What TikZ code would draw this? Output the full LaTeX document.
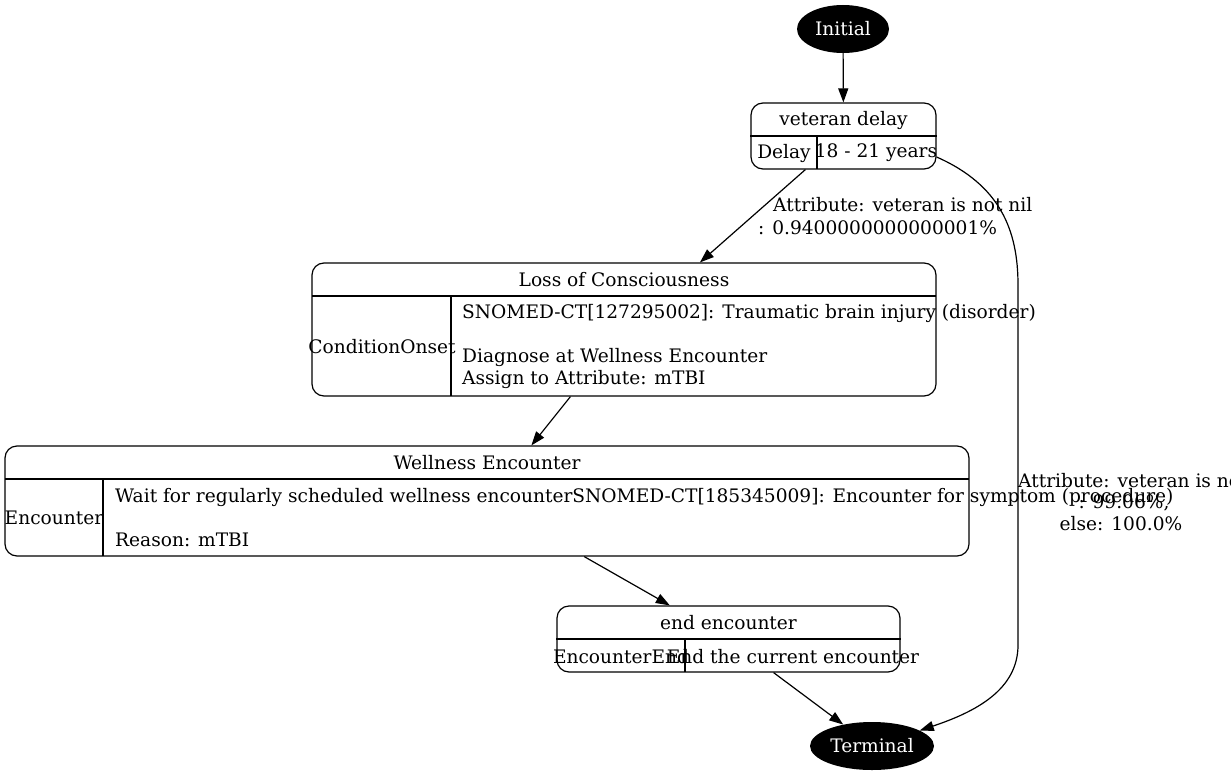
\documentclass[tikz,border=0pt]{standalone}
\usepackage{fontspec}
\setmainfont{DejaVu Serif}
\usetikzlibrary{arrows.meta,shapes.geometric,calc}
\tikzset{
  every node/.style={font=\fontsize{18.6}{22}\selectfont},
  statebox/.style={draw, rounded corners=12pt, line width=1.2pt, inner sep=0pt},
  termnode/.style={ellipse, fill=black, text=white, inner sep=0pt},
  conn/.style={line width=1.2pt, -{Triangle[length=14pt,width=10pt]}},
  divider/.style={line width=1.2pt},
  lbl/.style={inner sep=0pt}
}
\begin{document}
\begin{tikzpicture}[x=1pt,y=-1pt]
\useasboundingbox (0,0) rectangle (1231,776);
% initial
\node[termnode, minimum width=92pt, minimum height=48pt] (init) at (843,29) {Initial};
% veteran delay
\node[statebox, minimum width=185pt, minimum height=66pt] (vd) at (843.5,136) {};
\draw[divider] (vd.west) -- (vd.east);
\draw[divider] (817,136) -- (817,169);
\node[lbl] (vdh) at (843.5,120) {veteran delay};
\node[lbl] (vdk) at (784,153) {Delay};
\node[lbl] (vdv) at (876,153) {18 - 21 years};
% loss of consciousness
\node[statebox, minimum width=624pt, minimum height=133pt] (loc) at (624,329.5) {};
\draw[divider] (312,296) -- (936,296);
\draw[divider] (451,296) -- (451,396);
\node[lbl] (loch) at (624,280) {Loss of Consciousness};
\node[lbl] (lock) at (382,347) {ConditionOnset};
\node[lbl, anchor=west, align=left] (locv) at (462,346) {SNOMED-CT[127295002]: Traumatic brain injury (disorder)\\[22pt]Diagnose at Wellness Encounter\\Assign to Attribute: mTBI};
% wellness encounter
\node[statebox, minimum width=964pt, minimum height=110pt] (we) at (487,501) {};
\draw[divider] (5,479) -- (969,479);
\draw[divider] (103,479) -- (103,556);
\node[lbl] (weh) at (487,463) {Wellness Encounter};
\node[lbl] (wek) at (54,518) {Encounter};
\node[lbl, anchor=west, align=left] (wev) at (115,518) {Wait for regularly scheduled wellness encounterSNOMED-CT[185345009]: Encounter for symptom (procedure)\\[22pt]Reason: mTBI};
% end encounter
\node[statebox, minimum width=343pt, minimum height=66pt] (ee) at (728.5,639) {};
\draw[divider] (ee.west) -- (ee.east);
\draw[divider] (685,639) -- (685,672);
\node[lbl] (eeh) at (728.5,623) {end encounter};
\node[lbl] (eek) at (621,657) {EncounterEnd};
\node[lbl] (eev) at (793,657) {End the current encounter};
% terminal
\node[termnode, minimum width=124pt, minimum height=48pt] (term) at (872,746) {Terminal};
% connectors
\draw[conn] (init) -- (vd);
\draw[conn] (vd) -- (loc);
\draw[conn] (loc) -- (we);
\draw[conn] (we) -- (ee);
\draw[conn] (ee) -- (term);
\draw[conn] ([yshift=-21pt]vd.east) .. controls (1000,185) and (1018,230) .. (1018,285) -- (1018,645) .. controls (1018,690) and (975,712) .. (term.18);
% edge labels
\node[lbl, anchor=west] (l1a) at (773,205) {Attribute: veteran is not nil};
\node[lbl, anchor=west] (l1b) at (758,228) {: 0.9400000000000001\%};
\node[lbl, anchor=west] (l2a) at (1018,481) {Attribute: veteran is not nil};
\node[lbl] (l2b) at (1124,503) {: 99.06\%,};
\node[lbl] (l2c) at (1121,524) {else: 100.0\%};
\end{tikzpicture}
\end{document}
